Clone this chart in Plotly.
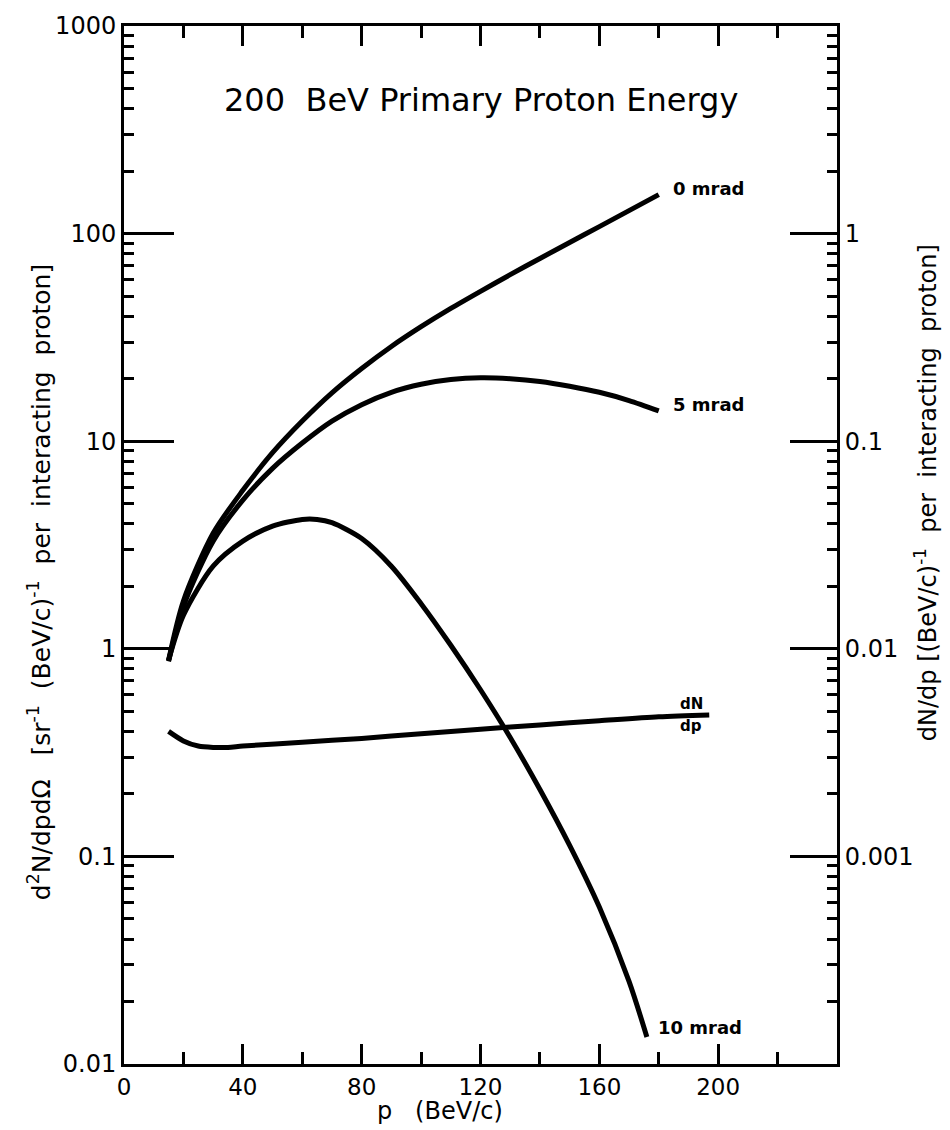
import math
import plotly.graph_objects as go

# ---- data ----
p_0mrad = [15, 20, 30, 40, 50, 60, 70, 80, 90, 100, 110, 120, 130, 140, 150, 160, 170, 180]
v_0mrad = [0.88, 1.7, 3.6, 5.8, 8.8, 12.5, 17.1, 22.4, 28.6, 35.6, 43.6, 52.7, 63.4, 75.9, 90.6, 108, 129, 154]

p_5mrad = [15, 20, 30, 40, 50, 60, 70, 80, 90, 100, 110, 120, 130, 140, 150, 160, 170, 180]
v_5mrad = [0.87, 1.6, 3.3, 5.2, 7.4, 9.8, 12.5, 15, 17.2, 18.8, 19.8, 20.2, 20, 19.4, 18.4, 17.2, 15.7, 14]

p_10mrad = [15, 20, 30, 40, 50, 60, 65, 70, 80, 90, 100, 110, 120, 130, 140, 150, 160, 170, 176]
v_10mrad = [0.88, 1.45, 2.5, 3.3, 3.9, 4.2, 4.2, 4.05, 3.4, 2.5, 1.65, 1.04, 0.635, 0.374, 0.21, 0.113, 0.057, 0.025, 0.0135]

p_dndp = [15, 20, 25, 30, 35, 40, 60, 80, 100, 120, 140, 160, 180, 197]
v_dndp = [0.4, 0.36, 0.34, 0.335, 0.335, 0.34, 0.355, 0.37, 0.39, 0.41, 0.43, 0.45, 0.47, 0.48]

x_major = [0, 40, 80, 120, 160, 200]
x_minor = [20, 60, 100, 140, 180, 220]
left_ticks = [0.01, 0.1, 1, 10, 100, 1000]
left_labels = ["0.01", "0.1", "1", "10", "100", "1000"]
right_ticks = [0.001, 0.01, 0.1, 1]
right_labels = ["0.001", "0.01", "0.1", "1"]

FONT = "DejaVu Sans"
minor_left = [k * 10 ** n for n in range(-2, 3) for k in range(2, 10)]
minor_right = [k * 10 ** n for n in range(-4, 1) for k in range(2, 10)]

fig = go.Figure()
line = dict(color="black", width=5, shape="spline", smoothing=0.8)
for px, pv in [(p_0mrad, v_0mrad), (p_5mrad, v_5mrad), (p_10mrad, v_10mrad), (p_dndp, v_dndp)]:
    fig.add_trace(go.Scatter(x=px, y=pv, mode="lines", line=line, showlegend=False, hoverinfo="skip"))

# invisible trace so the right axis is drawn
fig.add_trace(go.Scatter(x=[0], y=[0.01], yaxis="y2", mode="markers",
                         marker=dict(opacity=0), showlegend=False, hoverinfo="skip"))

fig.update_layout(
    width=950, height=1130,
    margin=dict(l=124, r=113, t=21, b=66),
    paper_bgcolor="white", plot_bgcolor="white",
    font=dict(family=FONT, color="black", size=20),
    xaxis=dict(
        range=[0, 240], showgrid=False, zeroline=False,
        showline=True, linecolor="black", linewidth=3, mirror="ticks",
        ticks="inside", ticklen=20, tickwidth=3, tickcolor="black",
        tickvals=x_major, ticktext=[str(v) for v in x_major],
        tickfont=dict(size=23, family=FONT),
        minor=dict(tickvals=x_minor, ticks="inside", ticklen=12, tickwidth=3, tickcolor="black", showgrid=False),
    ),
    yaxis=dict(
        type="log", range=[-2, 3], showgrid=False, zeroline=False,
        showline=True, linecolor="black", linewidth=3,
        ticks="inside", ticklen=50, tickwidth=3, tickcolor="black",
        tickvals=left_ticks, ticktext=left_labels,
        tickfont=dict(size=24, family=FONT),
        minor=dict(tickvals=minor_left, ticks="inside", ticklen=10, tickwidth=3, tickcolor="black", showgrid=False),
    ),
    yaxis2=dict(
        type="log", range=[-4, 1], overlaying="y", side="right",
        showgrid=False, zeroline=False,
        showline=True, linecolor="black", linewidth=3,
        ticks="inside", ticklen=47, tickwidth=3, tickcolor="black",
        tickvals=right_ticks, ticktext=right_labels,
        tickfont=dict(size=24, family=FONT),
        minor=dict(tickvals=minor_right, ticks="inside", ticklen=10, tickwidth=3, tickcolor="black", showgrid=False),
    ),
)

L = math.log10
lab = dict(size=18, family=FONT)
ann = [
    dict(text="200  BeV Primary Proton Energy", x=0.5, y=0.929, xref="paper", yref="paper",
         xanchor="center", yanchor="middle", showarrow=False, font=dict(size=32, family=FONT)),
    dict(text="<b>0 mrad</b>", x=184, y=L(165), xref="x", yref="y", xanchor="left", yanchor="middle",
         showarrow=False, font=lab),
    dict(text="<b>5 mrad</b>", x=184, y=L(15), xref="x", yref="y", xanchor="left", yanchor="middle",
         showarrow=False, font=lab),
    dict(text="<b>10 mrad</b>", x=179, y=L(0.015), xref="x", yref="y", xanchor="left", yanchor="middle",
         showarrow=False, font=lab),
    dict(text="<b>dN</b>", x=191, y=L(0.48), xref="x", yref="y", xanchor="center", yanchor="bottom",
         showarrow=False, font=dict(size=15, family=FONT)),
    dict(text="<b>dp</b>", x=191, y=L(0.48), xref="x", yref="y", xanchor="center", yanchor="top",
         showarrow=False, font=dict(size=15, family=FONT)),
    dict(text="p   (BeV/c)", x=0.443, y=-0.045, xref="paper", yref="paper", xanchor="center",
         yanchor="middle", showarrow=False, font=dict(size=24, family=FONT)),
    dict(text="d<sup>2</sup>N/dpdΩ   [sr<sup>-1</sup>  (BeV/c)<sup>-1</sup>  per  interacting  proton]",
         x=-0.118, y=0.464, xref="paper", yref="paper", xanchor="center", yanchor="middle",
         textangle=-90, showarrow=False, font=dict(size=25, family=FONT)),
    dict(text="dN/dp [(BeV/c)<sup>-1</sup>  per  interacting  proton]",
         x=1.125, y=0.55, xref="paper", yref="paper", xanchor="center", yanchor="middle",
         textangle=-90, showarrow=False, font=dict(size=24, family=FONT)),
]
fig.update_layout(annotations=ann)

fig.write_html("out.html")
